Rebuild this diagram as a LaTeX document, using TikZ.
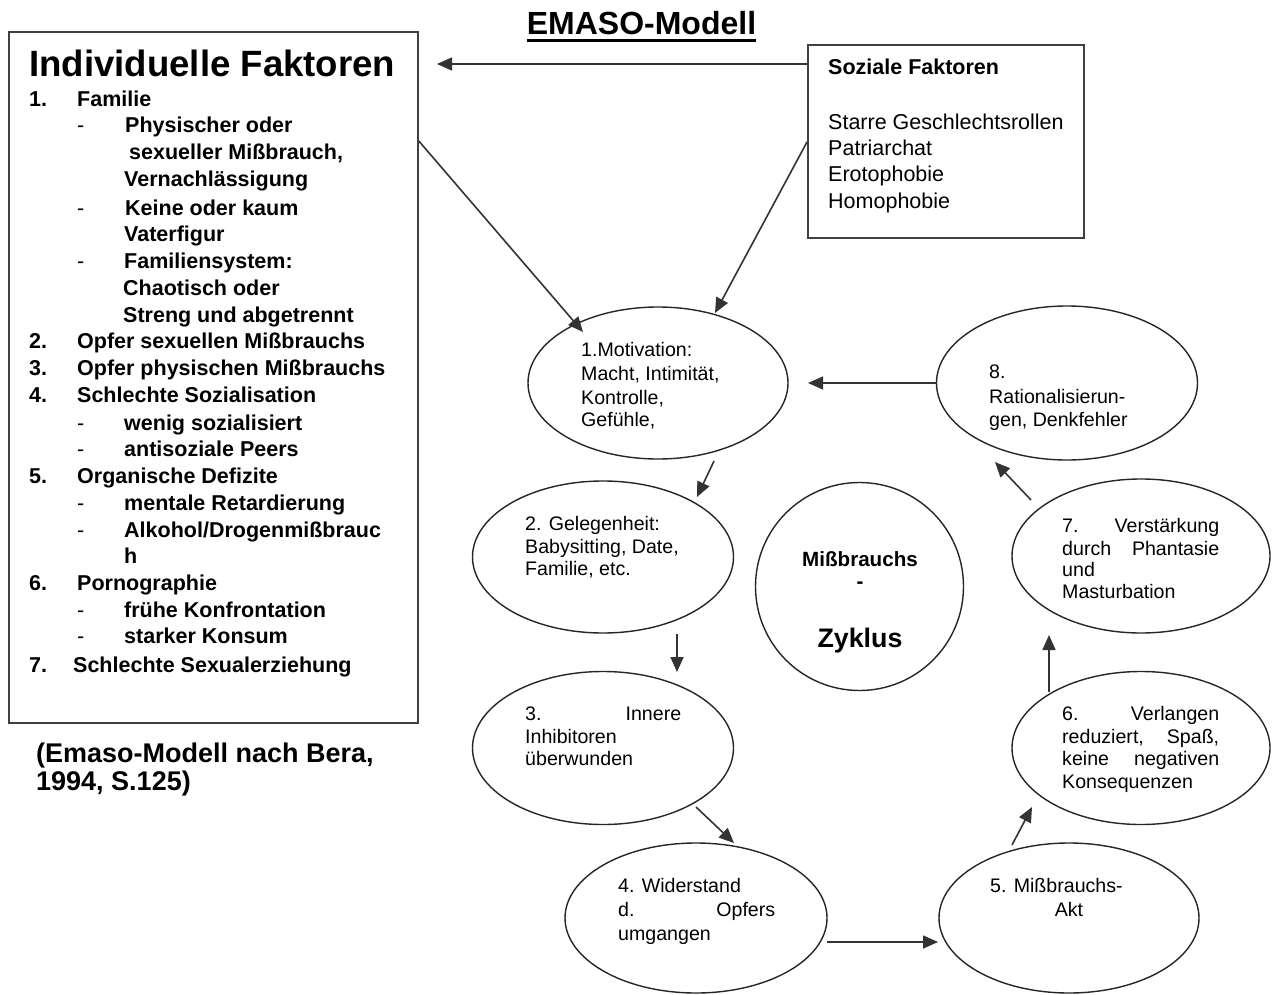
\documentclass[tikz,border=0pt]{standalone}
\usepackage{fontspec}
\setmainfont{Liberation Sans}
\usetikzlibrary{arrows.meta,shapes.geometric}
\begin{document}
\begin{tikzpicture}[x=1pt,y=-1pt,
  lin/.style={draw=black!80, line width=1.6pt},
  arr/.style={lin, -{Triangle[length=15pt,width=13pt]}},
  boxn/.style={draw=black!75, line width=1.8pt, inner sep=0, anchor=north west},
  ell/.style={ellipse, draw=black!85, line width=1.4pt, inner sep=0},
  lb/.style={inner sep=0, anchor=base west, font=\fontsize{21.5}{26}\selectfont\bfseries},
  lr/.style={inner sep=0, anchor=base west, font=\fontsize{21.5}{26}\selectfont},
  et/.style={inner sep=0, anchor=base west, font=\fontsize{19.6}{23}\selectfont},
  cb/.style={inner sep=0, anchor=base, font=\fontsize{20.6}{24}\selectfont\bfseries},
]
\useasboundingbox (0,0) rectangle (1274,995);
\fill[white] (0,0) rectangle (1274,995);

% title
\node[inner sep=0, anchor=base, font=\fontsize{32}{36}\selectfont\bfseries] (title) at (641.5,35) {EMASO-Modell};
\draw[line width=2.4pt] ([yshift=-5.5pt]title.base west) -- ([yshift=-5.5pt]title.base east);

% boxes
\node[boxn, minimum width=409, minimum height=691] (ind) at (8,31) {};
\node[boxn, minimum width=276, minimum height=193] (soc) at (807,44) {};

% left box text
\node[inner sep=0, anchor=base west, font=\fontsize{36.6}{40}\selectfont\bfseries] (indt) at (29,77) {Individuelle Faktoren};
\foreach \px/\py/\txt [count=\n] in {
  29/107/1., 77/107/Familie,
  125/133/Physischer oder, 129/160/{sexueller Mißbrauch,}, 124/187/Vernachlässigung,
  125/215/Keine oder kaum, 124/241/Vaterfigur,
  124/268/Familiensystem:, 123/295/Chaotisch oder, 123/322/Streng und abgetrennt,
  29/348/2., 77/348/Opfer sexuellen Mißbrauchs,
  29/375/3., 77/375/Opfer physischen Mißbrauchs,
  29/402/4., 77/402/Schlechte Sozialisation,
  124/430/wenig sozialisiert, 124/456/antisoziale Peers,
  29/483/5., 77/483/Organische Defizite,
  124/510/mentale Retardierung, 124/537/{Alkohol/Drogenmißbrauc}, 124/563/h,
  29/590/6., 77/590/Pornographie,
  124/617/frühe Konfrontation, 124/643/starker Konsum,
  29/672/7., 73/672/Schlechte Sexualerziehung}
  \node[lb] (L\n) at (\px,\py) {\txt};
\foreach \py [count=\n] in {133,215,268,430,456,510,537,617,643}
  \node[lr] (D\n) at (77,\py) {-};

% citation
\node[inner sep=0, anchor=base west, font=\fontsize{27}{30}\selectfont\bfseries] (cit1) at (36,762) {(Emaso-Modell nach Bera,};
\node[inner sep=0, anchor=base west, font=\fontsize{27}{30}\selectfont\bfseries] (cit2) at (36,790) {1994, S.125)};

% social box text
\node[lb] (s0) at (828,75) {Soziale Faktoren};
\node[lr] (s1) at (828,130) {Starre Geschlechtsrollen};
\node[lr] (s2) at (828,156) {Patriarchat};
\node[lr] (s3) at (828,182) {Erotophobie};
\node[lr] (s4) at (828,208) {Homophobie};

% ellipses
\node[ell, minimum width=260, minimum height=152] (e1) at (658,383) {};
\node[ell, minimum width=261, minimum height=152] (e2) at (603,557) {};
\node[ell, minimum width=261, minimum height=153] (e3) at (603,748) {};
\node[ell, minimum width=262, minimum height=150] (e4) at (696,918) {};
\node[ell, minimum width=260, minimum height=150] (e5) at (1069,918) {};
\node[ell, minimum width=258, minimum height=153] (e6) at (1141,748) {};
\node[ell, minimum width=258, minimum height=154] (e7) at (1141,556) {};
\node[ell, minimum width=261, minimum height=154] (e8) at (1067,383) {};
\node[circle, draw=black!85, line width=1.4pt, inner sep=0, minimum size=208] (cz) at (859.5,586.5) {};

% ellipse texts
\node[et] (t1a) at (581,356) {1.Motivation:};
\node[et] (t1b) at (581,380) {Macht, Intimität,};
\node[et] (t1c) at (581,404) {Kontrolle,};
\node[et] (t1d) at (581,426) {Gefühle,};

\node[et] (t2a) at (525,530) {2. Gelegenheit:};
\node[et] (t2b) at (525,553) {Babysitting, Date,};
\node[et] (t2c) at (525,575) {Familie, etc.};

\node[et] (t3a) at (525,720) {\makebox[156pt][s]{3. Innere}};
\node[et] (t3b) at (525,743) {Inhibitoren};
\node[et] (t3c) at (525,765) {überwunden};

\node[et] (t4a) at (618,892) {4. Widerstand};
\node[et] (t4b) at (618,916) {\makebox[157pt][s]{d. Opfers}};
\node[et] (t4c) at (618,940) {umgangen};

\node[et] (t5a) at (990,892) {5. Mißbrauchs-};
\node[et, anchor=base] (t5b) at (1069,916) {Akt};

\node[et] (t6a) at (1062,720) {\makebox[157pt][s]{6. Verlangen}};
\node[et] (t6b) at (1062,743) {\makebox[157pt][s]{reduziert, Spaß,}};
\node[et] (t6c) at (1062,765) {\makebox[157pt][s]{keine negativen}};
\node[et] (t6d) at (1062,788) {Konsequenzen};

\node[et] (t7a) at (1062,532) {\makebox[157pt][s]{7. Verstärkung}};
\node[et] (t7b) at (1062,555) {\makebox[157pt][s]{durch Phantasie}};
\node[et] (t7c) at (1062,576) {und};
\node[et] (t7d) at (1062,598) {Masturbation};

\node[et] (t8a) at (989,378) {8.};
\node[et] (t8b) at (989,403) {Rationalisierun-};
\node[et] (t8c) at (989,426) {gen, Denkfehler};

\node[cb] (z1) at (860,566) {Mißbrauchs};
\node[cb] (z2) at (860,588) {-};
\node[cb, font=\fontsize{26.8}{30}\selectfont\bfseries] (z3) at (860,647) {Zyklus};

% connectors
\coordinate (topTip) at (437,64);
\coordinate (c1) at (0,141);
\coordinate (c2) at (0,142);
\draw[arr] (soc.west |- topTip) -- (topTip);
\draw[arr] (ind.east |- c1) -- ([shift={(-75,-51)}]e1.center);
\draw[arr] (soc.west |- c2) -- ([shift={(57,-70)}]e1.center);
\draw[arr] (e8.west) -- ([shift={(150,0)}]e1.center);
\draw[arr] ([shift={(56,78)}]e1.center) -- ([shift={(94,-60)}]e2.center);
\draw[arr] ([shift={(74,77)}]e2.center) -- ([shift={(74,-76)}]e3.center);
\draw[arr] ([shift={(93,59)}]e3.center) -- ([shift={(38,-75)}]e4.center);
\draw[arr] ([shift={(131,24)}]e4.center) -- ([shift={(-131,24)}]e5.center);
\draw[arr] ([shift={(-57,-73)}]e5.center) -- ([shift={(-109,59)}]e6.center);
\draw[arr] ([shift={(-92,-56)}]e6.center) -- ([shift={(-92,79)}]e7.center);
\draw[arr] ([shift={(-110,-56)}]e7.center) -- ([shift={(-72,79)}]e8.center);
\end{tikzpicture}
\end{document}
